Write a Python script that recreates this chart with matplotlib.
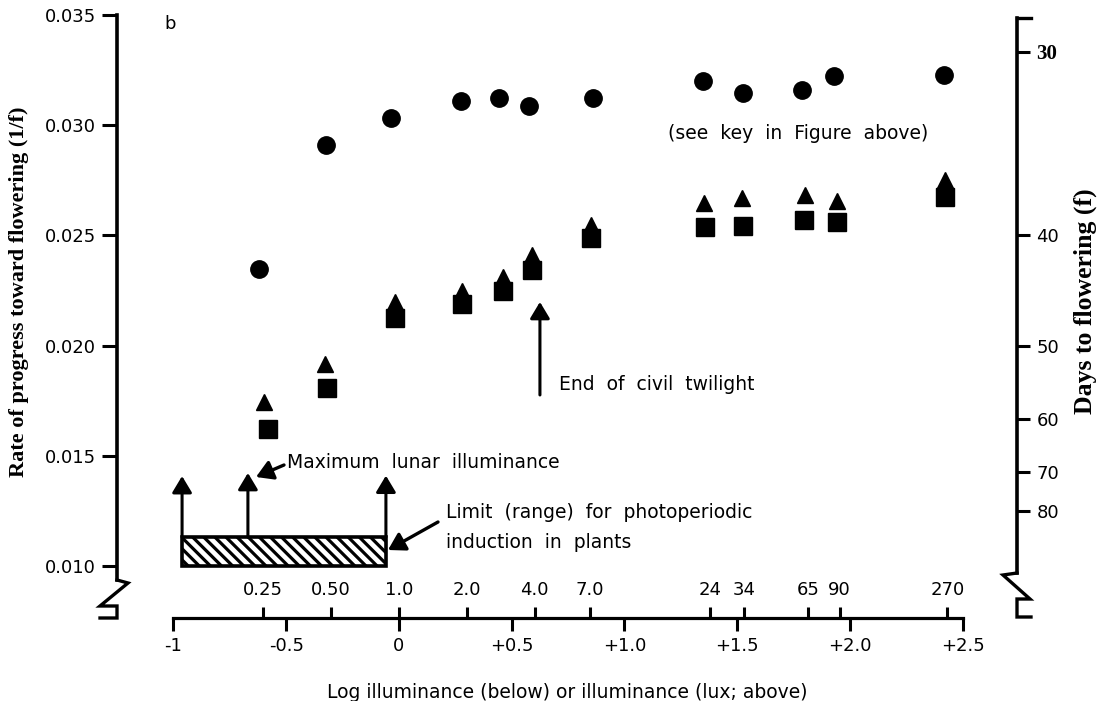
import matplotlib
matplotlib.use('Agg')
import matplotlib.pyplot as plt
import numpy as np
from matplotlib.patches import Rectangle

# ---------------- data ----------------
circle_log_lux = [-0.621, -0.324, -0.035, 0.275, 0.443, 0.576, 0.860, 1.348, 1.525, 1.787, 1.929, 2.417]
circle_rate = [0.02348, 0.0291, 0.03033, 0.0311, 0.03123, 0.03087, 0.03123, 0.0320, 0.03146, 0.0316, 0.03223, 0.03228]

tri_log_lux = [-0.599, -0.328, -0.018, 0.279, 0.461, 0.590, 0.851, 1.353, 1.521, 1.800, 1.942, 2.421]
tri_rate = [0.01744, 0.01917, 0.02196, 0.0225, 0.02309, 0.02409, 0.02549, 0.02647, 0.02670, 0.02683, 0.02656, 0.02751]

sq_log_lux = [-0.581, -0.319, -0.018, 0.279, 0.461, 0.590, 0.851, 1.357, 1.525, 1.796, 1.942, 2.421]
sq_rate = [0.01622, 0.01808, 0.02124, 0.02187, 0.02246, 0.02342, 0.02487, 0.02538, 0.02543, 0.0257, 0.02561, 0.02674]

rate_ticks = [0.010, 0.015, 0.020, 0.025, 0.030, 0.035]
rate_labels = ['0.010', '0.015', '0.020', '0.025', '0.030', '0.035']
log_ticks = [-1, -0.5, 0, 0.5, 1.0, 1.5, 2.0, 2.5]
log_labels = ['-1', '-0.5', '0', '+0.5', '+1.0', '+1.5', '+2.0', '+2.5']
lux_ticks = [0.25, 0.50, 1.0, 2.0, 4.0, 7.0, 24, 34, 65, 90, 270]
lux_labels = ['0.25', '0.50', '1.0', '2.0', '4.0', '7.0', '24', '34', '65', '90', '270']
day_ticks = [30, 40, 50, 60, 70, 80]
day_labels = ['30', '40', '50', '60', '70', '80']

# annotation geometry (log lux, rate)
box_x = (-0.962, -0.058)
box_y = (0.0100, 0.01131)
up_arrow_x = [-0.962, -0.670, -0.058]
up_arrow_tip = [0.01408, 0.01422, 0.01410]
twilight_x = 0.625
twilight_y = (0.01776, 0.02198)

# ---------------- layout ----------------
plt.rcParams['font.family'] = ['DejaVu Sans']
plt.rcParams['hatch.linewidth'] = 2.3
W, H = 1101, 701
fig = plt.figure(figsize=(W / 100, H / 100), dpi=100)

def fx(px):
    return px / W

def fy(py):
    return 1 - py / H

def L(px):
    return (px - 399) / 225.5

def V(py):
    return 0.035 - (py - 15) / 22040.0

ax = fig.add_axes([fx(117), fy(618), (1017 - 117) / W, (618 - 15) / H])
ax.set_xlim(L(117), L(1017))
ax.set_ylim(V(618), V(15))
ax.patch.set_visible(False)

for s in ['top', 'right']:
    ax.spines[s].set_visible(False)
ax.spines['left'].set_linewidth(2.6)
ax.spines['left'].set_bounds(V(580), 0.035)
ax.spines['bottom'].set_linewidth(2.3)
ax.spines['bottom'].set_bounds(-1, 2.5)

ax.set_yticks(rate_ticks, rate_labels)
ax.tick_params(axis='y', direction='out', length=11, width=2.2, pad=4, labelsize=13)
ax.set_xticks(log_ticks, log_labels)
ax.tick_params(axis='x', direction='out', length=9, width=2.2, pad=5, labelsize=13)

sec = ax.secondary_xaxis(0.0)
sec.set_alignment('top')
for s in sec.spines.values():
    s.set_visible(False)
sec.set_xticks(np.log10(lux_ticks), lux_labels)
sec.tick_params(axis='x', direction='out', length=8, width=2.2, pad=6, labelsize=13)

ax2 = ax.twinx()
ax2.set_ylim(ax.get_ylim())
for s in ['top', 'left', 'bottom']:
    ax2.spines[s].set_visible(False)
ax2.spines['right'].set_linewidth(2.6)
ax2.spines['right'].set_bounds(V(573), V(18))
ax2.set_yticks(1.0 / np.array(day_ticks, dtype=float), day_labels)
ax2.tick_params(axis='y', direction='out', length=9, width=2.2, pad=5, labelsize=13)
lab30 = ax2.get_yticklabels()[0]
lab30.set_fontfamily('Liberation Serif')
lab30.set_fontweight('bold')
lab30.set_fontsize(15)

# axis break decorations
def pline(pts, **kw):
    xs = [L(p[0]) for p in pts]
    ys = [V(p[1]) for p in pts]
    ax.plot(xs, ys, color='black', lw=2.4, clip_on=False, solid_joinstyle='miter', **kw)

pline([(117, 580), (128, 583), (100, 606), (117, 606), (117, 618), (100, 618)])
pline([(1017, 573), (1003, 575), (1030, 599), (1017, 599), (1017, 617), (1031, 617)])
pline([(1017, 18), (1031, 18)])

# ---------------- data marks ----------------
ax.plot(circle_log_lux, circle_rate, 'o', ms=12.5, color='black', ls='none', clip_on=False)
ax.plot(tri_log_lux, tri_rate, '^', ms=11, color='black', ls='none', clip_on=False)
ax.plot(sq_log_lux, sq_rate, 's', ms=12.3, color='black', ls='none', clip_on=False)

# ---------------- annotations ----------------
ax.add_patch(Rectangle((box_x[0], box_y[0]), box_x[1] - box_x[0], box_y[1] - box_y[0],
                       facecolor='white', edgecolor='black', hatch='\\\\\\', lw=2.6, zorder=3))

astyle = '-|>,head_length=1.0,head_width=0.6'
for xa, tip in zip(up_arrow_x, up_arrow_tip):
    ax.annotate('', xy=(xa, tip), xytext=(xa, box_y[1]),
                arrowprops=dict(arrowstyle=astyle, lw=2.2, color='black',
                                shrinkA=0, shrinkB=0, mutation_scale=10))

ax.annotate('', xy=(twilight_x, twilight_y[1]), xytext=(twilight_x, twilight_y[0]),
            arrowprops=dict(arrowstyle=astyle, lw=2.2, color='black',
                            shrinkA=0, shrinkB=0, mutation_scale=10))

ax.annotate('', xy=(L(256), V(477)), xytext=(L(284), V(465)),
            arrowprops=dict(arrowstyle=astyle, lw=2.4, color='black',
                            shrinkA=0, shrinkB=0, mutation_scale=10))
ax.annotate('', xy=(L(388), V(550)), xytext=(L(438), V(522)),
            arrowprops=dict(arrowstyle=astyle, lw=2.4, color='black',
                            shrinkA=0, shrinkB=0, mutation_scale=10))

tfs = 13.5
ax.text(L(287), V(462), 'Maximum  lunar  illuminance', fontsize=tfs, ha='left', va='center')
ax.text(L(446), V(513), 'Limit  (range)  for  photoperiodic', fontsize=tfs, ha='left', va='center')
ax.text(L(446), V(543), 'induction  in  plants', fontsize=tfs, ha='left', va='center')
ax.text(L(559), V(385), 'End  of  civil  twilight', fontsize=tfs, ha='left', va='center')
ax.text(L(798), V(134), '(see  key  in  Figure  above)', fontsize=tfs, ha='center', va='center')

fig.text(fx(170), fy(24), 'b', fontsize=13, ha='center', va='center')

fig.text(fx(19), fy(292), 'Rate of progress toward flowering (1/f)', rotation=90,
         ha='center', va='center', fontsize=16, fontweight='bold', family='Liberation Serif')
fig.text(fx(1085), fy(301), 'Days to flowering (f)', rotation=90,
         ha='center', va='center', fontsize=18.5, fontweight='bold', family='Liberation Serif')
fig.text(fx(567), fy(692), 'Log illuminance (below) or illuminance (lux; above)',
         ha='center', va='center', fontsize=13.5)

fig.savefig('out.png', dpi=100)
